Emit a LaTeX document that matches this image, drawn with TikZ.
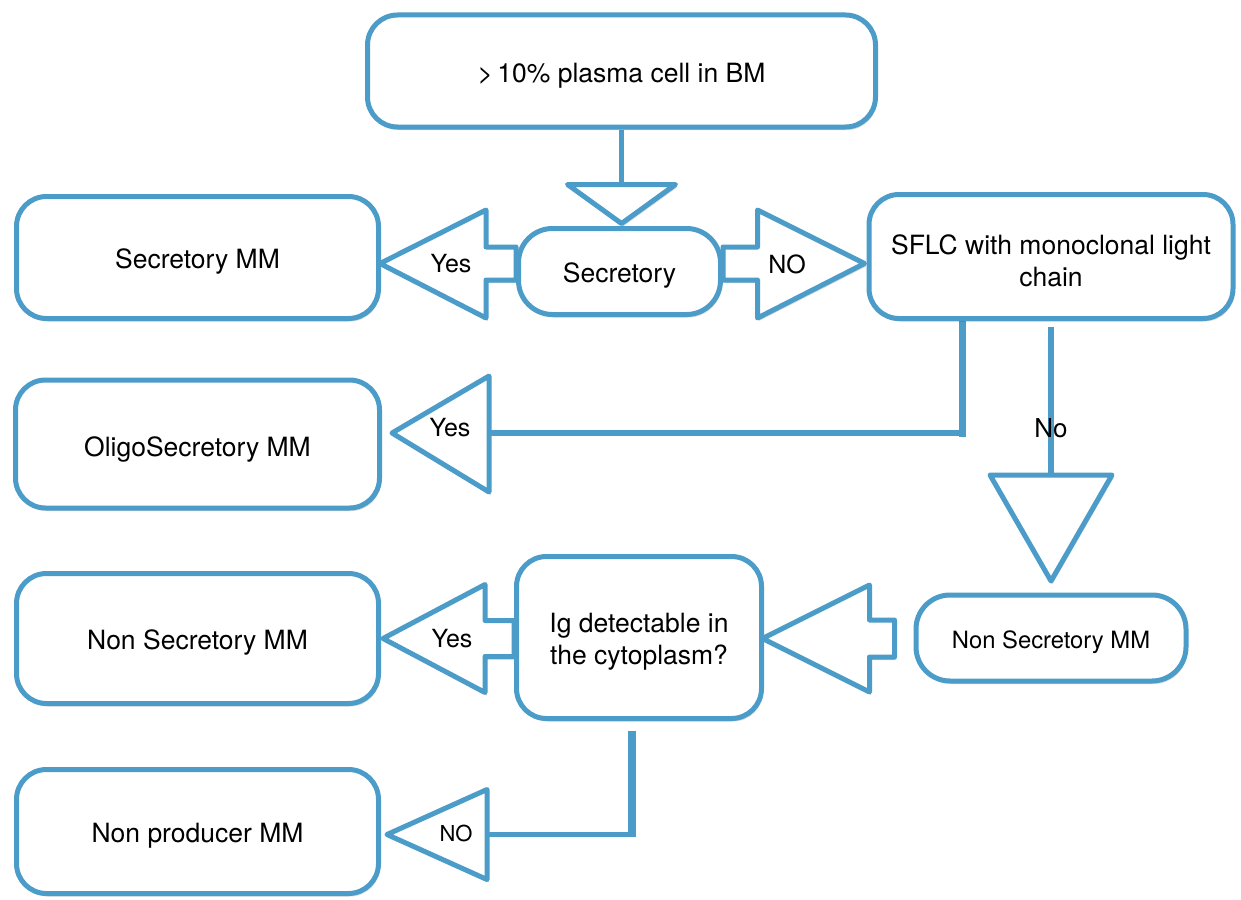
\documentclass[tikz,border=0pt]{standalone}
\usepackage{fontspec}
\setmainfont{TeX Gyre Heros}
\usetikzlibrary{calc,shadows,backgrounds}
\definecolor{bl}{HTML}{4B9CC9}
\newcommand{\bxstrut}{\rule{0pt}{28pt}}
\begin{document}
\begin{tikzpicture}[x=1pt,y=-1pt,
  shad/.style={drop shadow={shadow xshift=1.5pt,shadow yshift=-3pt,opacity=0.15,fill=black}},
  box/.style={draw=bl, line width=5pt, fill=white, rounded corners=30pt, align=center,
    font=\fontsize{26.5}{32}\selectfont, inner sep=0pt, shad},
  arr/.style={draw=bl, line width=5pt, fill=white, line join=round, shad},
  conn/.style={draw=bl, line width=5.5pt, line cap=rect},
  lbl/.style={font=\fontsize{25}{30}\selectfont, inner sep=0pt}]
\useasboundingbox (0,0) rectangle (1241,899);
% boxes
\node[box, minimum width=508pt, minimum height=112pt] (top) at (621.5,71) {\bxstrut\textgreater\,10\% plasma cell in BM};
\node[box, minimum width=202pt, minimum height=86pt, rounded corners=34pt] (sec) at (619.5,271.5) {\bxstrut Secretory};
\node[box, minimum width=362pt, minimum height=122pt] (secmm) at (197.5,257.5) {\bxstrut Secretory MM};
\node[box, minimum width=364pt, minimum height=124pt] (sflc) at (1051,256.5) {\bxstrut SFLC with monoclonal light\\chain};
\node[box, minimum width=364pt, minimum height=128pt] (oligo) at (197.5,444) {\rule{0pt}{31pt}OligoSecretory MM};
\node[box, minimum width=362pt, minimum height=130pt] (nsl) at (197.5,638.5) {\bxstrut Non Secretory MM};
\node[box, minimum width=362pt, minimum height=124pt] (npm) at (197.5,831.5) {\bxstrut Non producer MM};
\node[box, minimum width=245pt, minimum height=162pt] (ig) at (639,637.5) {\bxstrut Ig detectable in\\the cytoplasm?};
\node[box, minimum width=270pt, minimum height=86pt, rounded corners=34pt, font=\fontsize{23.8}{28}\selectfont] (nsr) at (1051,638) {\rule{0pt}{26pt}Non Secretory MM};
% labels
\node[lbl] (l1) at (451,264) {Yes};
\node[lbl] (l2) at (787,264) {NO};
\node[lbl] (l3) at (450,428) {Yes};
\node[lbl, font=\fontsize{26}{30}\selectfont] (l4) at (1051,428) {No};
\node[lbl] (l5) at (452,639) {Yes};
\node[lbl, font=\fontsize{22}{26}\selectfont] (l6) at (456,833) {NO};
\begin{pgfonlayer}{background}
\fill[white] (0,0) rectangle (1241,899);
% top -> secretory
\draw[conn, line cap=butt] (top.south) -- ++(0,55) coordinate (h1);
\draw[arr] (h1) ++(-54,0) -- ++(108,0) -- ++(-54,39) -- cycle;
% secretory -> secretory MM (Yes)
\draw[arr] ($(sec.west)+(0,-24.5)$) -- ++(-30,0) -- ++(0,-37) -- ++(-106,53.5) -- ++(106,54.5) -- ++(0,-38) -- ++(30,0) -- cycle;
% secretory -> SFLC (NO)
\draw[arr] ($(sec.east)+(0,-24.5)$) -- ++(34.5,0) -- ++(0,-37) -- ++(107,53.5) -- ++(-107,54.5) -- ++(0,-38) -- ++(-34.5,0) -- cycle;
% SFLC -> oligo (Yes)
\coordinate (h2) at (489,433);
\draw[conn, line width=7pt, line cap=butt] (962,0 |- sflc.south) -- (962,436.5);
\draw[conn] (962,0 |- h2) -- (h2);
\draw[arr] (h2) ++(0,-57) -- ++(-97,57) -- ++(97,59) -- cycle;
% SFLC -> non secretory right (No)
\draw[conn, line cap=butt] ($(sflc.south)+(0,6)$) -- ++(0,148) coordinate (h3);
\draw[arr] (h3) ++(-61,0) -- ++(122,0) -- ++(-61,106) -- cycle;
% non secretory right -> Ig
\draw[arr] ($(nsr.west)+(-19,-18)$) -- ++(-25,0) -- ++(0,-35) -- ++(-107,53.5) -- ++(107,53.5) -- ++(0,-35) -- ++(25,0) -- cycle;
% Ig -> non secretory left (Yes)
\draw[arr] ($(ig.west)+(0,-17)$) -- ++(-29,0) -- ++(0,-36) -- ++(-102,54) -- ++(102,54) -- ++(0,-36) -- ++(29,0) -- cycle;
% Ig -> non producer (NO)
\coordinate (c4) at ($(ig.south)+(-7,113.5)$);
\draw[conn, line width=8pt, line cap=butt] ($(ig.south)+(-7,10)$) -- ($(c4)+(0,2.75)$);
\draw[conn] (c4) -- ++(-145,0) coordinate (h4);
\draw[arr] (h4) ++(0,-45) -- ++(-100,45) -- ++(100,45) -- cycle;
\end{pgfonlayer}
\end{tikzpicture}
\end{document}
